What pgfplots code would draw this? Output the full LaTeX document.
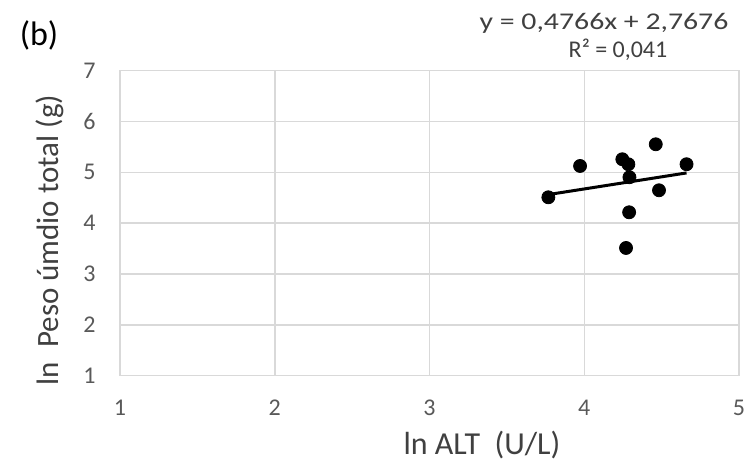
\documentclass[border=0pt]{standalone}
\usepackage{fontspec}
\setmainfont{Carlito}
\usepackage{pgfplots}
\pgfplotsset{compat=1.18}
\definecolor{gridc}{RGB}{217,217,217}
\definecolor{tickc}{RGB}{89,89,89}
\definecolor{labc}{RGB}{64,64,64}
\begin{document}
\begin{tikzpicture}
\begin{axis}[
  at={(0pt,0pt)}, anchor=south west,
  scale only axis, width=309.5pt, height=152.5pt,
  xmin=1, xmax=5, ymin=1, ymax=7,
  xtick={1,2,3,4,5}, ytick={1,2,3,4,5,6,7},
  major tick length=0pt,
  grid=major,
  major grid style={draw=gridc, line width=0.75pt},
  axis line style={draw=gridc, line width=0.75pt},
  /pgf/number format/assume math mode=true,
  tick label style={font=\fontsize{12}{14}\selectfont, text=tickc, inner sep=0pt},
  xticklabel style={anchor=north},
  yticklabel style={anchor=east},
  xticklabel shift=12pt,
  yticklabel shift=12pt,
  clip=false,
]
\addplot[only marks, mark=*, mark size=3.25pt, mark options={fill=black, draw=black}] coordinates {
  (3.768,4.510) (3.973,5.126) (4.246,5.258) (4.285,5.160) (4.292,4.904)
  (4.462,5.553) (4.661,5.160) (4.483,4.648) (4.290,4.215) (4.270,3.513)
};
\addplot[black, line width=1.5pt] coordinates {(3.768,4.5634) (4.661,4.9890)};
\end{axis}
\node[font=\fontsize{17}{20}\selectfont] at (-40.5pt,170.35pt) {(b)};
\node[font=\fontsize{12}{14}\selectfont, text=labc, xscale=1.24] at (242pt,176.35pt) {y = 0,4766x + 2,7676};
\node[font=\fontsize{12}{14}\selectfont, text=labc] at (249pt,162.85pt) {R² = 0,041};
\node[font=\fontsize{15.5}{18}\selectfont, text=labc, rotate=90] at (-35pt,67.85pt) {ln\ \ Peso úmdio total (g)};
\node[font=\fontsize{16}{19}\selectfont, text=labc, anchor=base] at (181pt,-39.15pt) {ln ALT\ \ (U/L)};
\pgfresetboundingbox
\useasboundingbox (-60pt,-43.15pt) rectangle (313.5pt,187.85pt);
\end{tikzpicture}
\end{document}
